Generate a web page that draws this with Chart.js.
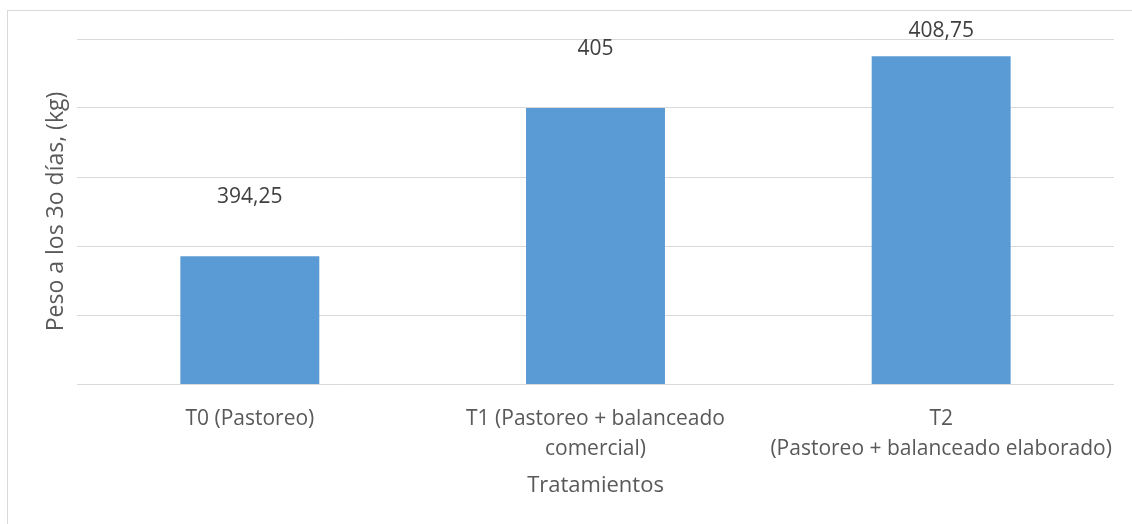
<!DOCTYPE html>
<html>
<head>
<meta charset="utf-8">
<script src="https://cdn.jsdelivr.net/npm/chart.js@4"></script>
<style>
  body { margin: 0; background: #fff; }
  #wrap { width: 1132px; height: 524px; position: relative; }
</style>
</head>
<body>
<div id="wrap"><canvas id="myChart"></canvas></div>
<script>
// treatments and weight at 30 days
let categorias = [
  "T0 (Pastoreo)",
  ["T1 (Pastoreo + balanceado", "comercial)"],
  ["T2", "(Pastoreo + balanceado elaborado)"],
];
let pesos = [394.25, 405, 408.75];
let etichette = ["394,25", "405", "408,75"];

const FONT = "'Open Sans', sans-serif";
const TESTO = "#595959";
const GRIGLIA = "#D9D9D9";

// white background and the thin frame around the chart
const cornice = {
  id: "cornice",
  beforeDraw(chart) {
    const ctx = chart.ctx;
    ctx.save();
    ctx.fillStyle = "#fff";
    ctx.fillRect(0, 0, chart.width, chart.height);
    ctx.strokeStyle = GRIGLIA;
    ctx.lineWidth = 1;
    ctx.strokeRect(7.5, 10.5, chart.width + 20, chart.height + 20);
    ctx.restore();
  },
};

// value labels above each bar
const valori = {
  id: "valori",
  afterDatasetsDraw(chart) {
    const ctx = chart.ctx;
    const meta = chart.getDatasetMeta(0);
    ctx.save();
    ctx.font = "21px " + FONT;
    ctx.fillStyle = "#404040";
    ctx.textAlign = "center";
    ctx.textBaseline = "middle";
    meta.data.forEach((bar, i) => {
      let y = Math.max(bar.y - 59, 31);
      ctx.fillText(etichette[i], bar.x, y);
    });
    ctx.restore();
  },
};

const ctx = document.getElementById("myChart");

new Chart(ctx, {
  type: "bar",
  data: {
    labels: categorias,
    datasets: [
      {
        data: pesos,
        backgroundColor: "#5B9BD5",
        categoryPercentage: 1,
        barPercentage: 0.402,
      },
    ],
  },
  options: {
    responsive: true,
    maintainAspectRatio: false,
    animation: false,
    layout: { padding: { top: 39, right: 18, left: 0, bottom: 0 } },
    plugins: {
      legend: { display: false },
      tooltip: { enabled: false },
    },
    scales: {
      x: {
        grid: { display: false, drawTicks: false },
        border: { display: false },
        ticks: {
          color: TESTO,
          font: { family: FONT, size: 21, lineHeight: 1.42 },
          maxRotation: 0,
          autoSkip: false,
          padding: 20,
        },
        title: {
          display: true,
          text: "Tratamientos",
          color: TESTO,
          font: { family: FONT, size: 22 },
          padding: { top: 0, bottom: 25 },
        },
        afterFit: (scale) => {
          scale.height = 140;
          // keep the last label from pushing the plot area in
          scale.paddingRight = 0;
          scale.paddingLeft = 0;
        },
      },
      y: {
        min: 385,
        max: 410,
        grid: { color: GRIGLIA, drawTicks: false },
        border: { display: false },
        ticks: { display: false, stepSize: 5 },
        title: {
          display: true,
          text: "Peso a los 3o días, (kg)",
          color: TESTO,
          font: { family: FONT, size: 23 },
          padding: { top: 43, bottom: 0 },
        },
        afterFit: (scale) => {
          scale.width = 77;
        },
      },
    },
  },
  plugins: [cornice, valori],
});
</script>
</body>
</html>
